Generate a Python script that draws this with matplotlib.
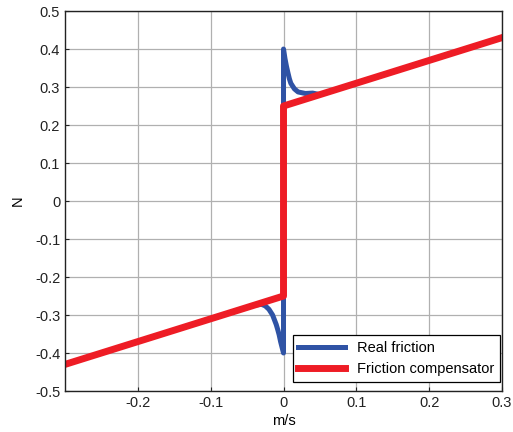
import numpy as np
import matplotlib
matplotlib.use("Agg")
import matplotlib.pyplot as plt

plt.rcParams['font.family'] = ['Liberation Sans', 'DejaVu Sans']

# real friction (Stribeck-like)
v_real = [-0.3, -0.04, -0.03, -0.025, -0.02, -0.015, -0.01, -0.008, -0.006, -0.004, -0.002, 0.0,
          0.0, 0.002, 0.004, 0.006, 0.008, 0.01, 0.015, 0.02, 0.03, 0.04, 0.05, 0.3]
f_real = [-0.43, -0.274, -0.272, -0.276, -0.285, -0.300, -0.325, -0.338, -0.352, -0.37, -0.385, -0.40,
          0.40, 0.375, 0.355, 0.338, 0.322, 0.31, 0.295, 0.287, 0.283, 0.284, 0.28, 0.43]

# friction compensator (coulomb + viscous)
v_comp = [-0.3, 0.0, 0.0, 0.3]
f_comp = [-0.43, -0.25, 0.25, 0.43]

xticks = [-0.2, -0.1, 0, 0.1, 0.2, 0.3]
yticks = [-0.5, -0.4, -0.3, -0.2, -0.1, 0, 0.1, 0.2, 0.3, 0.4, 0.5]

fig = plt.figure(figsize=(5.13, 4.32), dpi=100)
ax = fig.add_axes([0.1267, 0.0949, 0.8519, 0.8796])

ax.plot(v_real, f_real, color='#2f53a5', lw=3.6, label='Real friction')
ax.plot(v_comp, f_comp, color='#ee1c25', lw=5.0, label='Friction compensator')

ax.set_xlim(-0.3, 0.3)
ax.set_ylim(-0.5, 0.5)
ax.set_xticks(xticks)
ax.set_xticklabels(['-0.2', '-0.1', '0', '0.1', '0.2', '0.3'])
ax.set_yticks(yticks)
ax.set_yticklabels(['-0.5', '-0.4', '-0.3', '-0.2', '-0.1', '0', '0.1', '0.2', '0.3', '0.4', '0.5'])
ax.grid(True, color='#b0b0b0', lw=0.9)
ax.set_axisbelow(True)
ax.tick_params(direction='in', length=3, labelsize=10.5, colors='#222222')
for s in ax.spines.values():
    s.set_color('#222222')
    s.set_linewidth(1.0)

ax.set_xlabel('m/s', fontsize=10.5, labelpad=3)
ax.set_ylabel('N', fontsize=10.5, labelpad=7)

leg = ax.legend(loc='lower right', bbox_to_anchor=(0.995, 0.024), borderaxespad=0,
                fontsize=10.5, fancybox=False, framealpha=1, edgecolor='black',
                handlelength=3.2, labelspacing=0.5, borderpad=0.4)
leg.get_frame().set_linewidth(0.9)

fig.savefig('out.png', dpi=100)
